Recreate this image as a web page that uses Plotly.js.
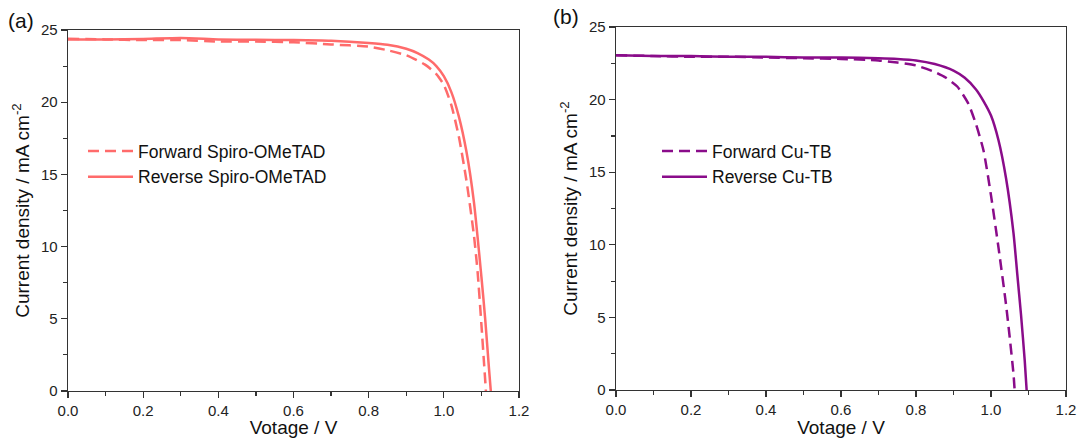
<!DOCTYPE html>
<html>
<head>
<meta charset="utf-8">
<script src="https://cdn.plot.ly/plotly-3.0.1.min.js"></script>
<style>html,body{margin:0;padding:0;background:#fff;}#chart{width:1078px;height:438px;}</style>
</head>
<body>
<div id="chart"></div>
<script>
// Panel (a) Spiro-OMeTAD
const spiroFwdV = [0, 0.1, 0.2, 0.3, 0.4, 0.5, 0.6, 0.7, 0.8, 0.85, 0.9, 0.95, 0.98, 1.0, 1.02, 1.04, 1.06, 1.08, 1.09, 1.1, 1.106, 1.112];
const spiroFwdJ = [24.4, 24.35, 24.3, 24.3, 24.2, 24.2, 24.15, 24.0, 23.85, 23.6, 23.25, 22.6, 21.95, 21.2, 19.8, 17.6, 14.6, 10.8, 8.2, 4.6, 2.3, 0];
const spiroRevV = [0, 0.1, 0.2, 0.3, 0.4, 0.5, 0.6, 0.7, 0.8, 0.85, 0.9, 0.93, 0.96, 0.98, 1.0, 1.02, 1.04, 1.06, 1.08, 1.1, 1.11, 1.12, 1.125];
const spiroRevJ = [24.35, 24.35, 24.38, 24.45, 24.35, 24.32, 24.3, 24.25, 24.1, 23.98, 23.7, 23.4, 22.95, 22.5, 21.8, 20.7, 19.0, 16.6, 13.1, 7.9, 5.0, 1.6, 0];
// Panel (b) Cu-TB
const cuFwdV = [0, 0.1, 0.2, 0.3, 0.4, 0.5, 0.6, 0.7, 0.75, 0.8, 0.85, 0.88, 0.91, 0.94, 0.96, 0.98, 1.0, 1.02, 1.04, 1.05, 1.06, 1.063];
const cuFwdJ = [23.05, 23.0, 22.95, 22.95, 22.9, 22.85, 22.8, 22.7, 22.55, 22.35, 21.9, 21.5, 20.9, 19.7, 18.3, 16.5, 13.4, 9.8, 5.9, 3.6, 1.1, 0];
const cuRevV = [0, 0.1, 0.2, 0.3, 0.4, 0.5, 0.6, 0.7, 0.75, 0.8, 0.85, 0.9, 0.93, 0.96, 0.98, 1.0, 1.02, 1.04, 1.06, 1.07, 1.08, 1.09, 1.095];
const cuRevJ = [23.05, 23.0, 23.0, 22.95, 22.95, 22.9, 22.9, 22.85, 22.8, 22.7, 22.45, 22.0, 21.5, 20.7, 19.9, 18.9, 17.2, 14.6, 10.8, 8.0, 5.2, 2.0, 0];

const xTickVals = [0, 0.2, 0.4, 0.6, 0.8, 1.0, 1.2];
const xTickText = ['0.0', '0.2', '0.4', '0.6', '0.8', '1.0', '1.2'];
const yTickVals = [0, 5, 10, 15, 20, 25];

const redColor = '#ff6b6b';
const purpleColor = '#8a0c8a';
const dashPat = '11px,6px';

const traces = [
  {x: spiroFwdV, y: spiroFwdJ, xaxis: 'x', yaxis: 'y', mode: 'lines', name: 'Forward Spiro-OMeTAD',
   line: {color: redColor, width: 2.5, dash: dashPat, shape: 'spline', smoothing: 0.6}, legend: 'legend'},
  {x: spiroRevV, y: spiroRevJ, xaxis: 'x', yaxis: 'y', mode: 'lines', name: 'Reverse Spiro-OMeTAD',
   line: {color: redColor, width: 2.5, shape: 'spline', smoothing: 0.6}, legend: 'legend'},
  {x: cuFwdV, y: cuFwdJ, xaxis: 'x2', yaxis: 'y2', mode: 'lines', name: 'Forward Cu-TB',
   line: {color: purpleColor, width: 2.5, dash: dashPat, shape: 'spline', smoothing: 0.6}, legend: 'legend2'},
  {x: cuRevV, y: cuRevJ, xaxis: 'x2', yaxis: 'y2', mode: 'lines', name: 'Reverse Cu-TB',
   line: {color: purpleColor, width: 2.5, shape: 'spline', smoothing: 0.6}, legend: 'legend2'}
];

const W = 1078, H = 438;
function fx(px) { return px / W; }
function fy(py) { return 1 - py / H; }

const FAM = 'Liberation Sans, Arial, sans-serif';
const tickFont = {family: FAM, size: 15, color: '#222'};
const titleFont = {family: FAM, size: 19, color: '#111'};

function xAxis(d0, d1, anchor) {
  return {
    domain: [d0, d1], anchor: anchor, range: [0, 1.2],
    tickvals: xTickVals, ticktext: xTickText, ticks: 'outside', ticklen: 6, tickwidth: 1.2, tickcolor: '#333',
    minor: {dtick: 0.1, tick0: 0, ticks: 'outside', ticklen: 4, tickwidth: 1.2, tickcolor: '#333', showgrid: false},
    showline: true, linecolor: '#333', linewidth: 1.3, mirror: true,
    showgrid: false, zeroline: false, tickfont: tickFont,
    title: {text: 'Votage / V', font: titleFont, standoff: 3}, automargin: false
  };
}
function yAxis(d0, d1, anchor) {
  return {
    domain: [d0, d1], anchor: anchor, range: [0, 25],
    tickvals: yTickVals, ticks: 'outside', ticklen: 6, tickwidth: 1.2, tickcolor: '#333',
    minor: {dtick: 2.5, tick0: 0, ticks: 'outside', ticklen: 4, tickwidth: 1.2, tickcolor: '#333', showgrid: false},
    showline: true, linecolor: '#333', linewidth: 1.3, mirror: true,
    showgrid: false, zeroline: false, tickfont: tickFont,
    title: {text: 'Current density / mA cm<sup>-2</sup>', font: titleFont, standoff: 6}, automargin: false
  };
}

const legendFont = {family: FAM, size: 17.5, color: '#111'};

const layout = {
  width: W, height: H, autosize: false,
  margin: {l: 0, r: 0, t: 0, b: 0},
  paper_bgcolor: '#fff', plot_bgcolor: '#fff',
  showlegend: true,
  xaxis: xAxis(fx(68), fx(519), 'y'),
  yaxis: yAxis(fy(391), fy(30), 'x'),
  xaxis2: xAxis(fx(616), fx(1066), 'y2'),
  yaxis2: yAxis(fy(390), fy(27), 'x2'),
  legend: {x: fx(83), y: fy(133), xanchor: 'left', yanchor: 'top', bgcolor: 'rgba(0,0,0,0)',
           font: legendFont, tracegroupgap: 0, itemwidth: 45},
  legend2: {x: fx(657), y: fy(133), xanchor: 'left', yanchor: 'top', bgcolor: 'rgba(0,0,0,0)',
            font: legendFont, tracegroupgap: 0, itemwidth: 45},
  annotations: [
    {text: '(a)', x: fx(6), y: fy(20), xref: 'paper', yref: 'paper', xanchor: 'left', yanchor: 'middle',
     showarrow: false, font: {family: FAM, size: 21, color: '#111'}},
    {text: '(b)', x: fx(551), y: fy(17), xref: 'paper', yref: 'paper', xanchor: 'left', yanchor: 'middle',
     showarrow: false, font: {family: FAM, size: 21, color: '#111'}}
  ]
};

Plotly.newPlot('chart', traces, layout, {displayModeBar: false, staticPlot: true});
</script>
</body>
</html>
